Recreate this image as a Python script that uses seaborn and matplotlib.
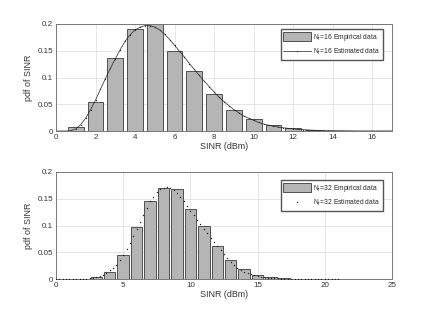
import numpy as np
import matplotlib
matplotlib.use("Agg")
import matplotlib.pyplot as plt
import seaborn as sns

# ---- data ----
bar_x16 = [1, 2, 3, 4, 5, 6, 7, 8, 9, 10, 11, 12, 13, 14, 15, 16]
bar_y16 = [0.008, 0.054, 0.136, 0.190, 0.201, 0.149, 0.113, 0.070, 0.039,
           0.022, 0.0105, 0.005, 0.0015, 0.0005, 0.0002, 0.0]

est_x16 = np.arange(0, 17.01, 0.25)
est_y16 = [0, 0, 0, 0.0005, 0.004, 0.012, 0.024, 0.040, 0.058, 0.078, 0.098,
           0.117, 0.135, 0.152, 0.168, 0.180, 0.189, 0.194, 0.197, 0.197,
           0.194, 0.189, 0.181, 0.171, 0.160, 0.149, 0.138, 0.126, 0.115,
           0.104, 0.093, 0.083, 0.073, 0.063, 0.055, 0.047, 0.040, 0.034,
           0.028, 0.024, 0.020, 0.016, 0.013, 0.011, 0.009, 0.0075, 0.006,
           0.005, 0.004, 0.003, 0.0025, 0.002, 0.0015, 0.0012, 0.001, 0.0008,
           0.0006, 0.0005, 0.0004, 0.0003, 0.0002, 0.0001, 0.0001, 0.0001,
           0.0001, 0.0001, 0.0001, 0.0001, 0.0001]

bar_x32 = [1, 2, 3, 4, 5, 6, 7, 8, 9, 10, 11, 12, 13, 14, 15, 16, 17, 18, 19, 20]
bar_y32 = [0.0, 0.0005, 0.003, 0.013, 0.045, 0.097, 0.145, 0.170, 0.168, 0.130,
           0.100, 0.062, 0.035, 0.018, 0.0075, 0.003, 0.0015, 0.0005, 0.0002, 0.0001]

est_x32 = np.arange(0, 21.01, 0.25)
est_y32 = [0, 0, 0, 0, 0, 0.0001, 0.0002, 0.0003, 0.0005, 0.0009, 0.0015,
           0.0025, 0.004, 0.0058, 0.008, 0.0115, 0.016, 0.021, 0.027, 0.035,
           0.045, 0.056, 0.068, 0.081, 0.094, 0.107, 0.120, 0.133, 0.145,
           0.154, 0.162, 0.168, 0.171, 0.1725, 0.171, 0.167, 0.161, 0.154,
           0.145, 0.137, 0.128, 0.120, 0.111, 0.103, 0.094, 0.086, 0.077,
           0.069, 0.062, 0.054, 0.046, 0.039, 0.032, 0.026, 0.021, 0.017,
           0.014, 0.011, 0.009, 0.007, 0.0055, 0.0045, 0.0035, 0.0027, 0.002,
           0.0016, 0.0012, 0.0009, 0.0007, 0.0005, 0.0004, 0.0003, 0.0002,
           0.0001, 0.0001, 0.0001, 0.0001, 0.0001, 0.0001, 0.0001, 0.0001,
           0.0001, 0.0001, 0.0001, 0.0001]

xticks16 = [0, 2, 4, 6, 8, 10, 12, 14, 16]
xticks32 = [0, 5, 10, 15, 20, 25]
yticks = [0, 0.05, 0.1, 0.15, 0.2]
ytick_labels = ["0", "0.05", "0.1", "0.15", "0.2"]

# ---- style ----
sns.set_theme(style="white")
plt.rcParams['font.family'] = ['Liberation Sans', 'DejaVu Sans']
plt.rcParams['mathtext.fontset'] = 'custom'
plt.rcParams['mathtext.rm'] = 'Liberation Sans'
plt.rcParams['mathtext.it'] = 'Liberation Sans'

fig = plt.figure(figsize=(4.32, 3.14), dpi=100)
ax1 = fig.add_axes([56/432, 1-131/314, 336/432, 107/314])
ax2 = fig.add_axes([56/432, 1-279/314, 336/432, 107/314])

bar_face = '#b5b5b5'
bar_edge = '#505050'
fs = 5.8

def style(ax, xlim, xticks):
    ax.set_xlim(*xlim)
    ax.set_ylim(0, 0.2)
    ax.set_xticks(xticks)
    ax.set_xticklabels([str(t) for t in xticks])
    ax.set_yticks(yticks)
    ax.set_yticklabels(ytick_labels)
    ax.grid(True, color='#e0e0e0', linewidth=0.6)
    ax.set_axisbelow(True)
    for s in ax.spines.values():
        s.set_color('#777777')
        s.set_linewidth(0.7)
    ax.tick_params(axis='both', direction='in', length=2.5, width=0.5,
                   colors='#666666', labelsize=fs, labelcolor='#333333', pad=2)
    ax.set_xlabel('SINR (dBm)', fontsize=fs + 0.6, color='#333333', labelpad=1)
    ax.set_ylabel('pdf of SINR', fontsize=fs + 0.6, color='#333333', labelpad=3)

def legend(ax, y_top):
    h, l = ax.get_legend_handles_labels()
    order = [l.index(x) for x in sorted(l, key=lambda s: 0 if 'Empirical' in s else 1)]
    ax.legend([h[i] for i in order], [l[i] for i in order],
              loc='upper right', bbox_to_anchor=(383/432, 1-y_top/314),
              bbox_transform=fig.transFigure, borderaxespad=0, fontsize=4.9,
              frameon=True, fancybox=False, edgecolor='#555555', framealpha=1,
              handlelength=4.0, handleheight=1.6, borderpad=0.4, labelspacing=0.6,
              handletextpad=0.4)

# top
sns.barplot(x=bar_x16, y=bar_y16, native_scale=True, width=0.8, ax=ax1,
            color=bar_face, edgecolor=bar_edge, linewidth=0.7, saturation=1,
            label=r'N$_r$=16 Empirical data')
sns.lineplot(x=est_x16, y=est_y16, ax=ax1, color='#222222', linewidth=0.5,
             marker='.', markersize=1.8, markeredgewidth=0,
             label=r'N$_r$=16 Estimated data')
style(ax1, (0, 17), xticks16)
legend(ax1, 29)

# bottom
sns.lineplot(x=est_x32, y=est_y32, ax=ax2, color='#1a1a1a', linestyle='',
             marker='.', markersize=2.0, markeredgewidth=0, zorder=3,
             label=r'N$_r$=32 Estimated data')
sns.barplot(x=bar_x32, y=bar_y32, native_scale=True, width=0.85, ax=ax2,
            color=bar_face, edgecolor=bar_edge, linewidth=0.7, saturation=1,
            label=r'N$_r$=32 Empirical data')
style(ax2, (0, 25), xticks32)
legend(ax2, 180)

fig.savefig('out.png', dpi=100)
